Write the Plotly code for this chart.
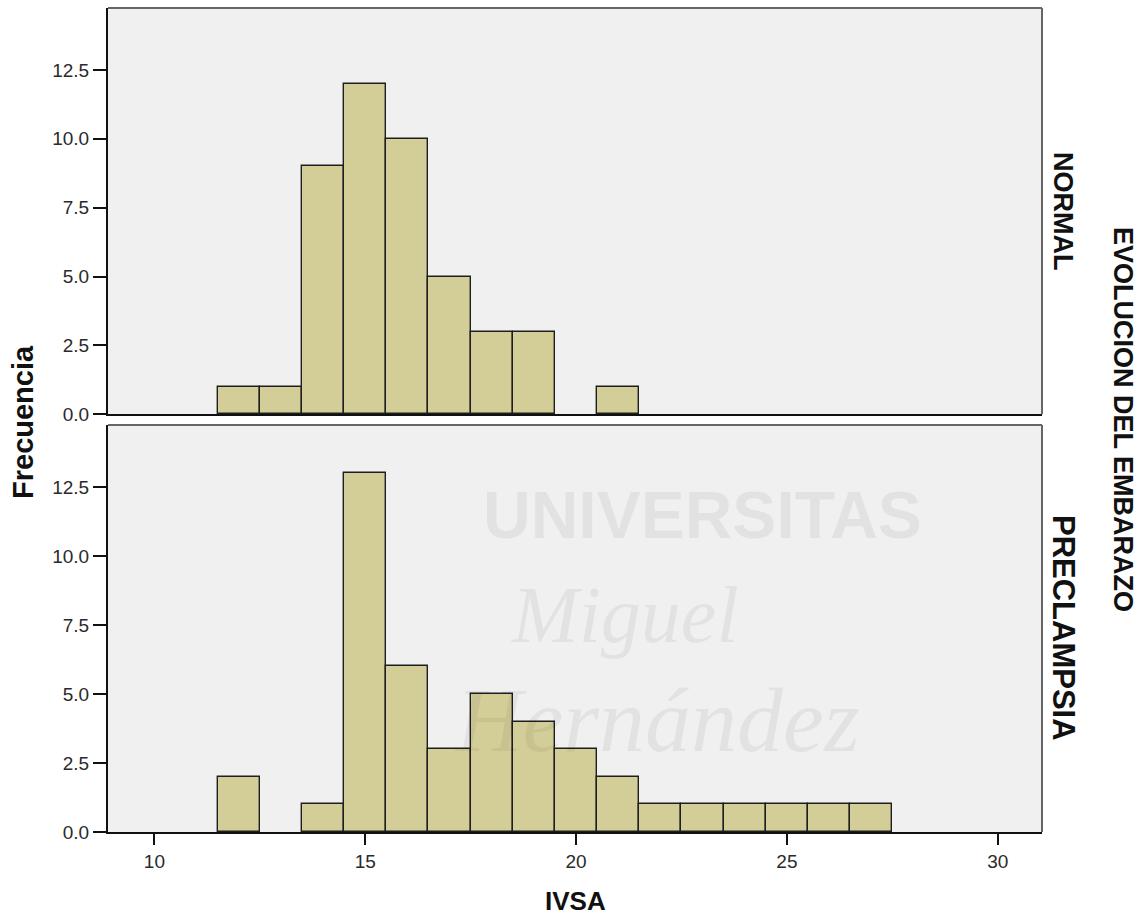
import plotly.graph_objects as go

# ---- data ----
ivsa_bins = [12, 13, 14, 15, 16, 17, 18, 19, 20, 21, 22, 23, 24, 25, 26, 27]
normal_counts = [1, 1, 9, 12, 10, 5, 3, 3, 0, 1, 0, 0, 0, 0, 0, 0]
preclampsia_counts = [2, 0, 1, 13, 6, 3, 5, 4, 3, 2, 1, 1, 1, 1, 1, 1]
y_ticks = [0.0, 2.5, 5.0, 7.5, 10.0, 12.5]
x_ticks = [10, 15, 20, 25, 30]
panel_labels = ["NORMAL", "PRECLAMPSIA"]
facet_title = "EVOLUCION DEL EMBARAZO"
x_title = "IVSA"
y_title = "Frecuencia"

BAR_FILL = "#d3ce98"
BAR_LINE = "#1e1e1e"
PANEL_BG = "#f0f0f0"
FONT = "Liberation Sans, Arial, sans-serif"


def nonzero(xs, ys):
    pairs = [(x, y) for x, y in zip(xs, ys) if y > 0]
    return [p[0] for p in pairs], [p[1] for p in pairs]


fig = go.Figure()
for counts, xa, ya in [(normal_counts, "x", "y"), (preclampsia_counts, "x2", "y2")]:
    bx, by = nonzero(ivsa_bins, counts)
    fig.add_trace(go.Bar(x=bx, y=by, width=1,
                         marker=dict(color=BAR_FILL, line=dict(color=BAR_LINE, width=1.4)),
                         xaxis=xa, yaxis=ya, showlegend=False, hoverinfo="x+y"))

xr = [8.9, 31.05]
yr = [0, 14.75]
tickfont = dict(family=FONT, size=19, color="#2a2a2a")

common_y = dict(range=yr, tickvals=y_ticks, ticktext=[f"{v:.1f}" for v in y_ticks],
                ticks="outside", ticklen=13, tickwidth=2, tickcolor="#111",
                showgrid=False, zeroline=False, showline=True, linecolor="#111",
                linewidth=2, tickfont=tickfont, fixedrange=True)

fig.update_layout(
    width=1145, height=917,
    margin=dict(l=108, r=103, t=8, b=85),
    paper_bgcolor="white",
    plot_bgcolor=PANEL_BG,
    bargap=0,
    xaxis=dict(domain=[0, 1], range=xr, anchor="y", showticklabels=False, ticks="",
               showgrid=False, zeroline=False, showline=True, linecolor="#111", linewidth=2,
               matches="x2"),
    yaxis=dict(domain=[0.507, 1], anchor="x", **common_y),
    xaxis2=dict(domain=[0, 1], range=xr, anchor="y2", tickvals=x_ticks,
                ticks="outside", ticklen=11, tickwidth=2, tickcolor="#111",
                showgrid=False, zeroline=False, showline=True, linecolor="#111",
                linewidth=2, tickfont=tickfont),
    yaxis2=dict(domain=[0, 0.494], anchor="x2", **common_y),
    font=dict(family=FONT),
)

# panel borders (top/right in gray)
for xa, ya in [("x", "y"), ("x2", "y2")]:
    fig.add_shape(type="line", xref=f"{xa} domain", yref=f"{ya} domain",
                  x0=0, x1=1, y0=1, y1=1, line=dict(color="#666", width=2), layer="above")
    fig.add_shape(type="line", xref=f"{xa} domain", yref=f"{ya} domain",
                  x0=1, x1=1, y0=0, y1=1, line=dict(color="#666", width=2), layer="above")


def label(text, x, y, angle, size):
    fig.add_annotation(text=f"<b>{text}</b>", xref="paper", yref="paper", x=x, y=y,
                       xanchor="center", yanchor="middle", textangle=angle,
                       showarrow=False, font=dict(family=FONT, size=size, color="#111"))


label(y_title, -0.091, 0.4976, -90, 29)
label(x_title, 0.5, -0.0837, 0, 26)
label(panel_labels[0], 1.0225, 0.7536, 90, 27)
label(panel_labels[1], 1.0225, 0.2476, 90, 31)
label(facet_title, 1.0867, 0.5, 90, 27)

# faint watermark (text of the reference background)
wm = "rgba(0,0,0,0.055)"
fig.add_annotation(text="<b>UNIVERSITAS</b>", xref="paper", yref="paper",
                   x=0.637, y=0.3847, xanchor="center", yanchor="middle",
                   showarrow=False, font=dict(family=FONT, size=66, color=wm))
fig.add_annotation(text="<i>Miguel</i>", xref="paper", yref="paper",
                   x=0.5535, y=0.2633, xanchor="center", yanchor="middle",
                   showarrow=False, font=dict(family="Liberation Serif, serif", size=80, color=wm))
fig.add_annotation(text="<i>Hernández</i>", xref="paper", yref="paper",
                   x=0.588, y=0.1359, xanchor="center", yanchor="middle",
                   showarrow=False, font=dict(family="Liberation Serif, serif", size=92, color=wm))

fig.write_html("out.html")
